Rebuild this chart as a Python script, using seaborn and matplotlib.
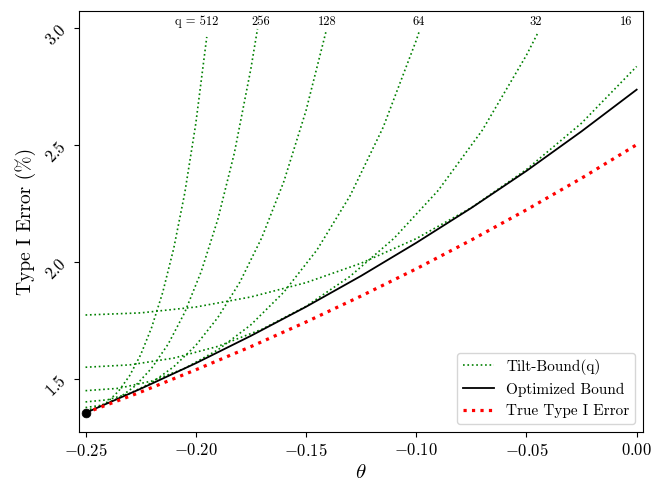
import matplotlib
matplotlib.use("Agg")
import matplotlib.pyplot as plt
import seaborn as sns

# Tilt-Bound(q) curves: theta values and bound in %
q_values = [16, 32, 64, 128, 256, 512]

theta_q16 = [-0.25, -0.225, -0.2, -0.175, -0.15, -0.125, -0.1, -0.075, -0.05, -0.025, 0.0]
bound_q16 = [1.773, 1.782, 1.807, 1.850, 1.911, 1.994, 2.099, 2.231, 2.394, 2.592, 2.834]

theta_q32 = [-0.25, -0.23, -0.21, -0.19, -0.17, -0.15, -0.13, -0.11, -0.09, -0.07, -0.05, -0.045]
bound_q32 = [1.550, 1.560, 1.589, 1.639, 1.712, 1.810, 1.938, 2.101, 2.305, 2.562, 2.882, 2.974]

theta_q64 = [-0.25, -0.235, -0.22, -0.205, -0.19, -0.175, -0.16, -0.145, -0.13, -0.115, -0.1, -0.0985]
bound_q64 = [1.450, 1.460, 1.491, 1.545, 1.624, 1.731, 1.871, 2.051, 2.282, 2.574, 2.945, 2.987]

theta_q128 = [-0.25, -0.24, -0.23, -0.22, -0.21, -0.2, -0.19, -0.18, -0.17, -0.16, -0.15, -0.141]
bound_q128 = [1.402, 1.411, 1.438, 1.484, 1.552, 1.643, 1.762, 1.913, 2.104, 2.344, 2.645, 2.980]

theta_q256 = [-0.25, -0.2425, -0.235, -0.2275, -0.22, -0.2125, -0.205, -0.1975, -0.19, -0.1825, -0.175, -0.172]
bound_q256 = [1.378, 1.388, 1.418, 1.470, 1.546, 1.649, 1.784, 1.959, 2.181, 2.464, 2.824, 2.994]

theta_q512 = [-0.25, -0.245, -0.24, -0.235, -0.23, -0.225, -0.22, -0.215, -0.21, -0.205, -0.2, -0.195]
bound_q512 = [1.367, 1.376, 1.402, 1.448, 1.514, 1.603, 1.720, 1.869, 2.057, 2.293, 2.589, 2.960]

tilt_theta = [theta_q16, theta_q32, theta_q64, theta_q128, theta_q256, theta_q512]
tilt_bound = [bound_q16, bound_q32, bound_q64, bound_q128, bound_q256, bound_q512]

# optimized bound and true type I error
theta_grid = [-0.25, -0.225, -0.2, -0.175, -0.15, -0.125, -0.1, -0.075, -0.05, -0.025, 0.0]
optimized = [1.355, 1.458, 1.567, 1.684, 1.808, 1.940, 2.081, 2.230, 2.388, 2.557, 2.735]
true_error = [1.355, 1.444, 1.539, 1.638, 1.743, 1.854, 1.970, 2.093, 2.222, 2.357, 2.500]

theta0 = -0.25
error0 = 1.355

# label positions at the top of each curve
label_text = ["16", "32", "64", "128", "256", "q = 512"]
label_x = [-0.0049, -0.0457, -0.0988, -0.1404, -0.1705, -0.1995]

plt.rcParams["font.family"] = "serif"
plt.rcParams["font.serif"] = ["cmr10"]
plt.rcParams["mathtext.fontset"] = "cm"
plt.rcParams["axes.formatter.use_mathtext"] = True

fig = plt.figure(figsize=(6.65, 4.97), dpi=100)
ax = fig.add_axes([0.119, 0.131, 0.848, 0.847])

for i, q in enumerate(q_values):
    sns.lineplot(x=tilt_theta[i], y=tilt_bound[i], ax=ax, color="green",
                 linestyle=":", linewidth=1.2,
                 label="Tilt-Bound(q)" if i == 0 else None)

sns.lineplot(x=theta_grid, y=optimized, ax=ax, color="black",
             linewidth=1.3, label="Optimized Bound")
sns.lineplot(x=theta_grid, y=true_error, ax=ax, color="red",
             linestyle=":", linewidth=2.3, label="True Type I Error")
sns.scatterplot(x=[theta0], y=[error0], ax=ax, color="black", s=40,
                zorder=5, edgecolor="black")

for txt, lx in zip(label_text, label_x):
    ax.text(lx, 3.026, txt, ha="center", va="center", fontsize=9)

ax.set_xlim(-0.2529, 0.0029)
ax.set_ylim(1.274, 3.071)
ax.set_xticks([-0.25, -0.2, -0.15, -0.1, -0.05, 0.0])
ax.set_yticks([1.5, 2.0, 2.5, 3.0])
ax.tick_params(axis="both", labelsize=12)
ax.tick_params(axis="y", labelrotation=45)
ax.set_xlabel(r"$\theta$", fontsize=15)
ax.set_ylabel("Type I Error (%)", fontsize=14)
ax.legend(loc="lower right", fontsize=11)

fig.savefig("out.png", dpi=100)
